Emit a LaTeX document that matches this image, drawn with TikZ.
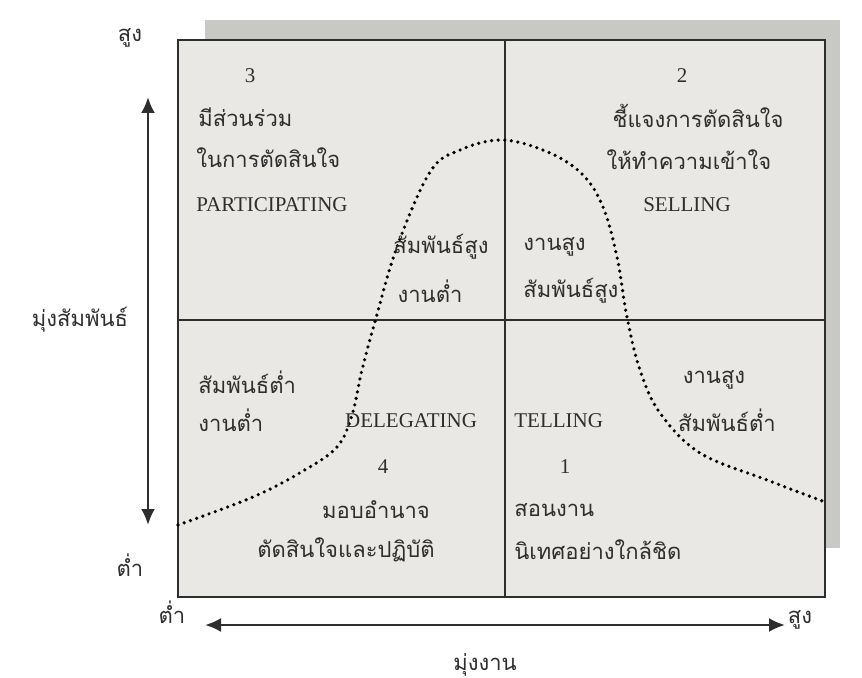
\documentclass[tikz,border=0pt]{standalone}
\usepackage{fontspec}
\setmainfont{Liberation Serif}
\newfontfamily\thaifont[Script=Thai]{Loma}
\usepackage{xcolor}
\usepackage{tikz}
\usetikzlibrary{arrows.meta, positioning, calc}
\definecolor{boxgray}{HTML}{E9E8E4}
\definecolor{shadegray}{HTML}{C8C8C4}
\definecolor{inkgray}{HTML}{2E2E2E}

\begin{document}
\begin{tikzpicture}[x=0.5pt,y=-0.5pt,
  th/.style={font=\thaifont\fontsize{11}{13}\selectfont, text=inkgray, inner sep=1pt},
  en/.style={font=\fontsize{10.5}{12}\selectfont, text=inkgray, inner sep=1pt},
  axisarrow/.style={inkgray, line width=1.2pt, {Latex[length=8pt,width=7pt]}-{Latex[length=8pt,width=7pt]}}]
  \useasboundingbox (0,0) rectangle (862,678);
  % background block and quadrant box
  \fill[shadegray] (205,20) rectangle (840,548);
  \fill[boxgray]   (178,40) rectangle (825,597);
  \draw[inkgray, line width=1.4pt] (178,40) rectangle (825,597);
  \draw[inkgray, line width=0.9pt] (505,40) -- (505,597);
  \draw[inkgray, line width=0.9pt] (178,320) -- (825,320);
  % bell curve
  \draw[black, line width=1.8pt, line cap=round, dash pattern=on 0pt off 3.3pt]
    plot[smooth, tension=0.6] coordinates {(178,525) (253,497) (303,471) (337,447) (352,415)
      (362,370) (376,318) (397,247) (430,172) (460,150) (503,140) (550,153) (583,175)
      (603,207) (617,257) (627,317) (640,370) (660,413) (700,453) (767,480) (825,502)};
  % quadrant 3
  \node[en] (n3) at (250,76) {3};
  \node[th, anchor=west] (q3a) at (196,117) {มีส่วนร่วม};
  \node[th, anchor=west] (q3b) at (194,158) {ในการตัดสินใจ};
  \node[en, anchor=west] (q3c) at (194,205) {PARTICIPATING};
  \node[th] (q3d) at (441,247) {สัมพันธ์สูง};
  \node[th] (q3e) at (430,291) {งานต่ำ};
  % quadrant 2
  \node[en] (n2) at (682,76) {2};
  \node[th] (q2a) at (698,116) {ชี้แจงการตัดสินใจ};
  \node[th] (q2b) at (689,160) {ให้ทำความเข้าใจ};
  \node[en] (q2c) at (687,205) {SELLING};
  \node[th, anchor=west] (q2d) at (521,247) {งานสูง};
  \node[th, anchor=west] (q2e) at (521,291) {สัมพันธ์สูง};
  % quadrant 4
  \node[th, anchor=west] (q4a) at (196,382) {สัมพันธ์ต่ำ};
  \node[th, anchor=west] (q4b) at (196,420) {งานต่ำ};
  \node[en] (q4c) at (411,421) {DELEGATING};
  \node[en] (n4) at (383,467) {4};
  \node[th] (q4d) at (376,510) {มอบอำนาจ};
  \node[th] (q4e) at (346,550) {ตัดสินใจและปฏิบัติ};
  % quadrant 1
  \node[th] (q1a) at (714,380) {งานสูง};
  \node[th] (q1b) at (727,420) {สัมพันธ์ต่ำ};
  \node[en, anchor=west] (q1c) at (512,421) {TELLING};
  \node[en] (n1) at (565,467) {1};
  \node[th, anchor=west] (q1d) at (512,510) {สอนงาน};
  \node[th, anchor=west] (q1e) at (512,550) {นิเทศอย่างใกล้ชิด};
  % axes
  \node[th] (yhigh) at (130,38) {สูง};
  \node[th] (ylow) at (130,565) {ต่ำ};
  \node[th] (ylabel) at (80,320) {มุ่งสัมพันธ์};
  \node[th] (xlow) at (172,612) {ต่ำ};
  \node[th] (xhigh) at (800,620) {สูง};
  \node[th] (xlabel) at (485,665) {มุ่งงาน};
  \coordinate (ytop) at (148,97);
  \coordinate (ybot) at (148,525);
  \coordinate (xleft) at (205,625);
  \coordinate (xright) at (785,625);
  \draw[axisarrow] (ybot) -- (ytop);
  \draw[axisarrow] (xleft) -- (xright);
\end{tikzpicture}
\end{document}
